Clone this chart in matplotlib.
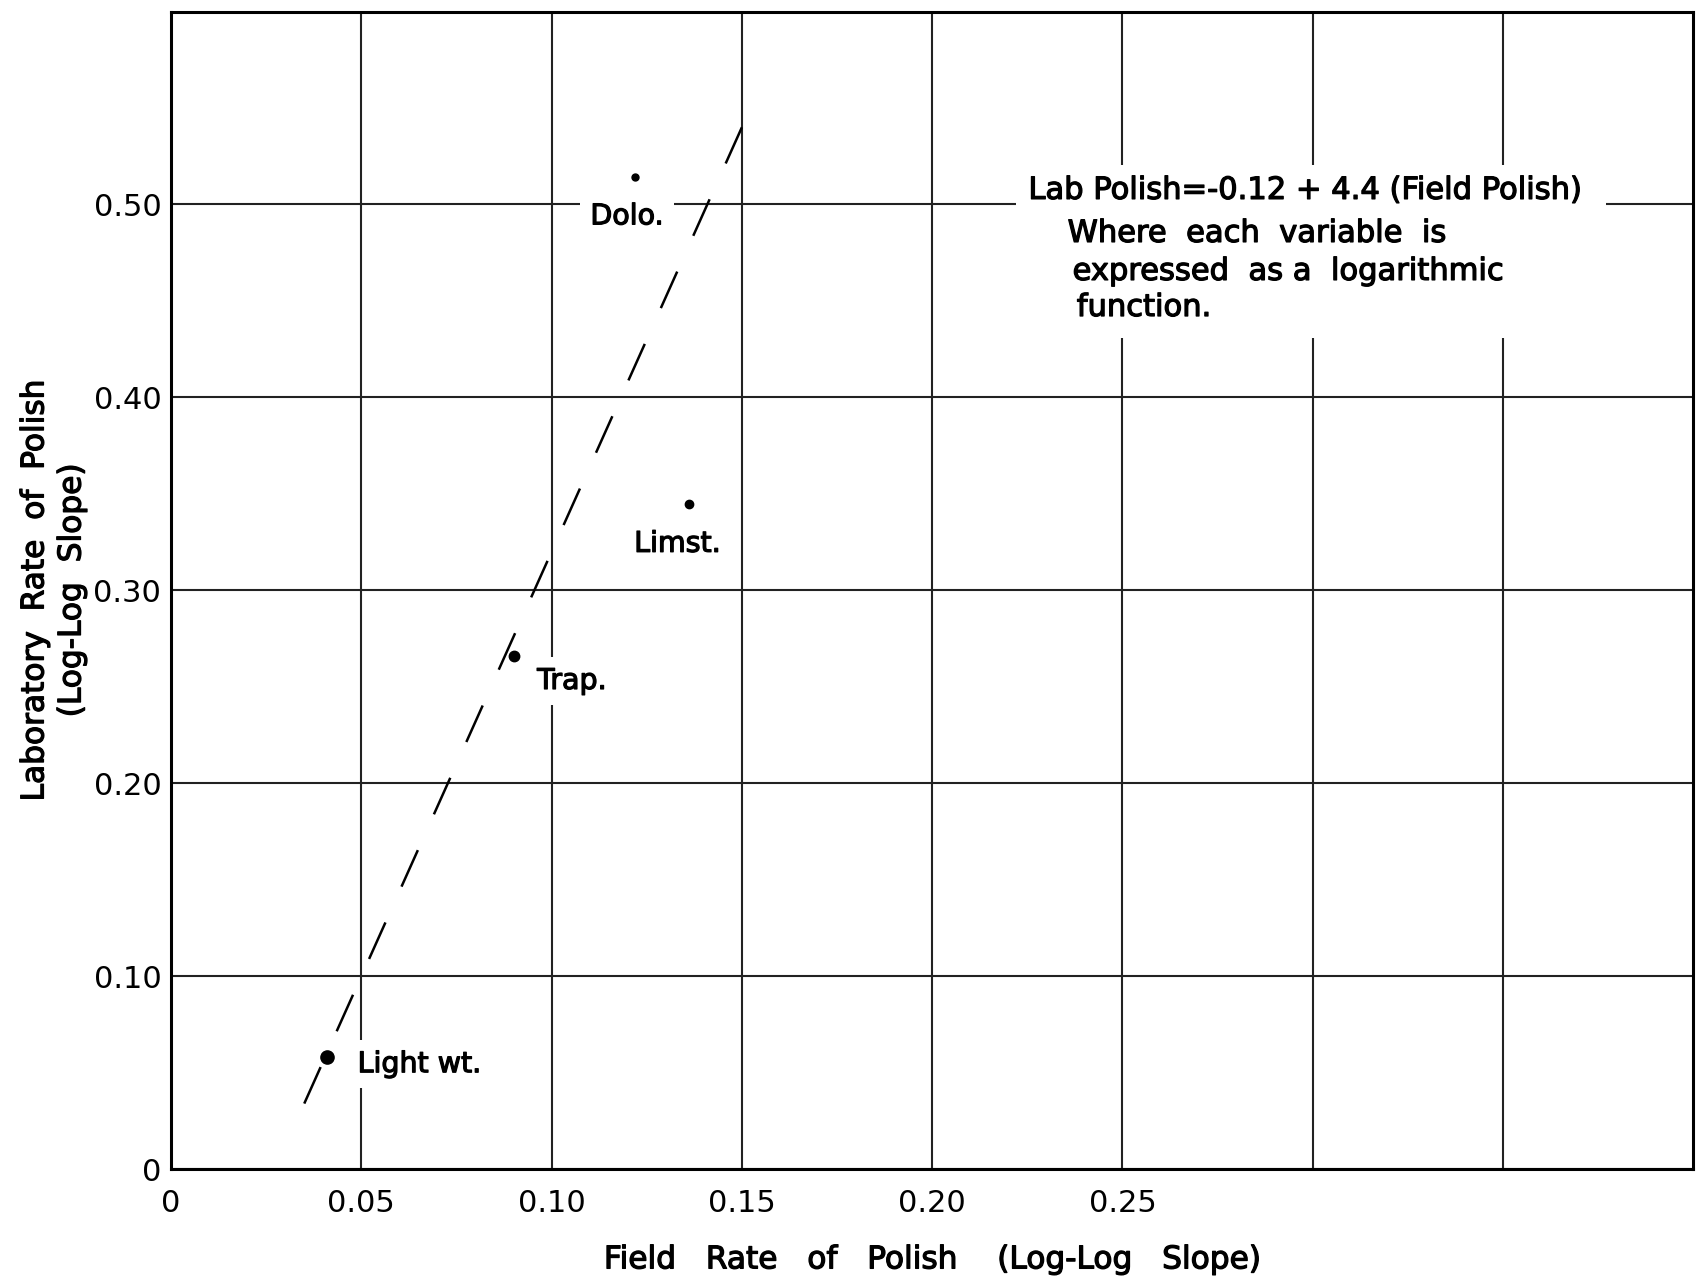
import matplotlib
matplotlib.use("Agg")
import matplotlib.pyplot as plt
import matplotlib.patheffects as pe
from matplotlib.patches import Rectangle

# Data
aggregates = ['Light wt.', 'Trap.', 'Limst.', 'Dolo.']
field_rate = [0.041, 0.090, 0.136, 0.122]
lab_rate = [0.058, 0.266, 0.345, 0.514]

# regression: Lab Polish = -0.12 + 4.4 (Field Polish)
intercept = -0.12
slope = 4.4
fit_x = [0.035, 0.15]

x_ticks = [0, 0.05, 0.10, 0.15, 0.20, 0.25, 0.30, 0.35]
x_tick_labels = ['0', '0.05', '0.10', '0.15', '0.20', '0.25', '', '']
y_ticks = [0, 0.10, 0.20, 0.30, 0.40, 0.50]
y_tick_labels = ['0', '0.10', '0.20', '0.30', '0.40', '0.50']

# label offsets (points) and dot sizes, just for looks
label_offsets = [(22, -5), (17, -18), (-8, -29), (-6, -28)]
label_align = ['left', 'left', 'center', 'center']
dot_sizes = [9.5, 7.5, 6, 5]

# slightly heavier lettering, like the stencil text on the original
heavy = [pe.withStroke(linewidth=0.9, foreground='black')]

fig = plt.figure(figsize=(16.97, 12.82), dpi=100)
ax = fig.add_axes([0.1008, 0.088, 0.897, 0.903])

ax.set_xlim(0, 0.40)
ax.set_ylim(0, 0.60)
ax.set_xticks(x_ticks)
ax.set_xticklabels(x_tick_labels)
ax.set_yticks(y_ticks + [0.60])
ax.set_yticklabels(y_tick_labels + [''])
ax.tick_params(axis='x', length=0, pad=14, labelsize=22)
ax.tick_params(axis='y', length=0, pad=7, labelsize=22)

ax.grid(True, color='#222222', linewidth=1.5)
for s in ax.spines.values():
    s.set_linewidth(2.2)
    s.set_color('black')

# white patch behind the equation note (breaks the grid lines)
ax.add_patch(Rectangle((0.222, 0.4306), 0.155, 0.0901, transform=ax.transData,
                       facecolor='white', edgecolor='none', zorder=2))

# fitted line (dash/gap chosen so both ends finish on a dash)
fit_y = [intercept + slope * x for x in fit_x]
ax.plot(fit_x, fit_y, color='black', linewidth=1.8,
        linestyle=(0, (16, 15.7)), zorder=3)

# points and their names
for i, name in enumerate(aggregates):
    ax.plot(field_rate[i], lab_rate[i], 'o', color='black',
            markersize=dot_sizes[i], zorder=4)
    ax.annotate(name, (field_rate[i], lab_rate[i]), xytext=label_offsets[i],
                textcoords='offset points', ha=label_align[i], va='center',
                fontsize=20.5, zorder=5, path_effects=heavy,
                bbox=dict(boxstyle='square,pad=0.35', fc='white', ec='none'))

# equation note
note = [
    (0.2253, 0.5073, 'Lab Polish=-0.12 + 4.4 (Field Polish)'),
    (0.2356, 0.4850, 'Where  each  variable  is'),
    (0.2369, 0.4653, 'expressed  as a  logarithmic'),
    (0.2380, 0.4466, 'function.'),
]
for nx, ny, line in note:
    ax.text(nx, ny, line, fontsize=22, va='center', ha='left', zorder=5,
            path_effects=heavy)

ax.set_xlabel('Field   Rate   of   Polish    (Log-Log   Slope)', fontsize=22.5,
              labelpad=20, path_effects=heavy)
ax.set_ylabel('Laboratory  Rate  of  Polish\n(Log-Log  Slope)', fontsize=22.5,
              labelpad=5, linespacing=1.35, path_effects=heavy)

fig.savefig('out.png', dpi=100)
